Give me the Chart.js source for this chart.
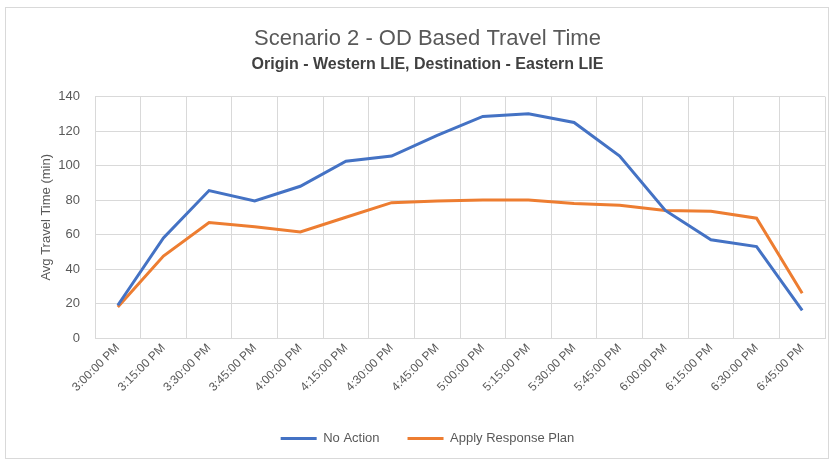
<!DOCTYPE html>
<html>
<head>
<meta charset="utf-8">
<script src="https://cdn.jsdelivr.net/npm/chart.js@4"></script>
<style>
  html, body { margin: 0; padding: 0; background: #fff; }
  #wrap { position: absolute; left: 5px; top: 7px; width: 824px; height: 452px; border: 1px solid #d9d9d9; box-sizing: border-box; }
  canvas { position: absolute; left: 0; top: 0; }
</style>
</head>
<body>
<div id="wrap"></div>
<canvas id="chart" width="835" height="465"></canvas>
<script>
const times = ['3:00:00 PM', '3:15:00 PM', '3:30:00 PM', '3:45:00 PM', '4:00:00 PM', '4:15:00 PM',
               '4:30:00 PM', '4:45:00 PM', '5:00:00 PM', '5:15:00 PM', '5:30:00 PM', '5:45:00 PM',
               '6:00:00 PM', '6:15:00 PM', '6:30:00 PM', '6:45:00 PM'];
const noAction      = [19, 58, 85.5, 79.5, 88, 102.5, 105.5, 117.5, 128.5, 130, 125, 105.5, 74, 57, 53, 16];
const responsePlan  = [18, 47.5, 67, 64.5, 61.5, 70, 78.5, 79.5, 80, 80, 78, 77, 74, 73.5, 69.5, 26];
const yTicks = [0, 20, 40, 60, 80, 100, 120, 140];

const font = "'Liberation Sans', sans-serif";
const grey = '#595959';
const gridColor = '#d9d9d9';

new Chart(document.getElementById('chart').getContext('2d'), {
    type: 'line',
    data: {
        labels: times,
        datasets: [
            { label: 'No Action', data: noAction, borderColor: '#4472C4', backgroundColor: '#4472C4',
              borderWidth: 3, pointRadius: 0, pointStyle: 'line', tension: 0 },
            { label: 'Apply Response Plan', data: responsePlan, borderColor: '#ED7D31', backgroundColor: '#ED7D31',
              borderWidth: 3, pointRadius: 0, pointStyle: 'line', tension: 0 }
        ]
    },
    options: {
        responsive: false,
        animation: false,
        layout: { padding: { left: 30, right: 10, top: 26, bottom: 10 } },
        plugins: {
            title: { display: true, text: 'Scenario 2 - OD Based Travel Time', color: grey,
                     font: { family: font, size: 22, weight: 'normal' }, padding: { top: 0, bottom: 3 } },
            subtitle: { display: true, text: 'Origin - Western LIE, Destination - Eastern LIE', color: '#404040',
                        font: { family: font, size: 16, weight: 'bold' }, padding: { top: 0, bottom: 22 } },
            legend: { position: 'bottom',
                      labels: { usePointStyle: true, pointStyleWidth: 36, boxHeight: 3, color: grey,
                                font: { family: font, size: 13 }, padding: 28 } },
            tooltip: { enabled: false }
        },
        scales: {
            x: {
                offset: true,
                afterFit: s => { s.height = 66; },
                grid: { offset: true, color: gridColor, drawTicks: false },
                border: { color: gridColor },
                ticks: { color: grey, font: { family: font, size: 12 }, minRotation: 45, maxRotation: 45, padding: 3 }
            },
            y: {
                min: 0, max: 140,
                afterFit: s => { s.width = 65; },
                afterBuildTicks: s => { s.ticks = yTicks.map(v => ({ value: v })); },
                grid: { color: gridColor, drawTicks: false },
                border: { display: false },
                ticks: { color: grey, font: { family: font, size: 13 }, padding: 15 },
                title: { display: true, text: 'Avg Travel Time (min)', color: grey,
                         font: { family: font, size: 13 }, padding: { top: 9, bottom: 6 } }
            }
        }
    }
});
</script>
</body>
</html>
